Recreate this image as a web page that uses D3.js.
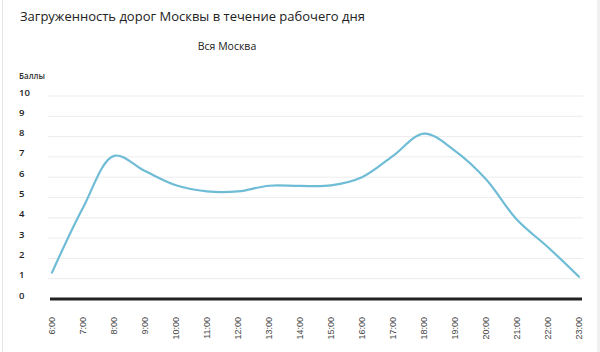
<!DOCTYPE html>
<html lang="ru">
<head>
<meta charset="UTF-8">
<title>Загруженность дорог Москвы</title>
<style>
    html, body { margin: 0; padding: 0; background: #fff; }
    svg { display: block; }
</style>
</head>
<body>
<svg id="chart" width="600" height="352"></svg>
<script src="https://cdnjs.cloudflare.com/ajax/libs/d3/7.8.5/d3.min.js"></script>
<script>
"use strict"

const hours = ["6:00", "7:00", "8:00", "9:00", "10:00", "11:00", "12:00", "13:00", "14:00",
    "15:00", "16:00", "17:00", "18:00", "19:00", "20:00", "21:00", "22:00", "23:00"];
const scores = [1.3, 4.5, 7.05, 6.3, 5.6, 5.3, 5.3, 5.58, 5.57,
    5.6, 6.0, 7.05, 8.15, 7.3, 5.9, 3.9, 2.55, 1.1];
const yTicks = [0, 1, 2, 3, 4, 5, 6, 7, 8, 9, 10];

const svg = d3.select("#chart");

// card edges
svg.append("line")
    .attr("x1", 2.5).attr("x2", 2.5).attr("y1", 0).attr("y2", 352)
    .attr("stroke", "#e4e4e4");
svg.append("rect")
    .attr("x", 597).attr("y", 0).attr("width", 3).attr("height", 352)
    .attr("fill", "#f0f0f0");

svg.append("text")
    .attr("x", 20).attr("y", 21)
    .attr("font-family", "Open Sans, sans-serif")
    .attr("font-size", "13px")
    .attr("fill", "#222")
    .text("Загруженность дорог Москвы в течение рабочего дня");

svg.append("text")
    .attr("x", 227).attr("y", 50)
    .attr("text-anchor", "middle")
    .attr("font-family", "Open Sans, sans-serif")
    .attr("font-size", "10.5px")
    .attr("fill", "#222")
    .text("Вся Москва");

svg.append("text")
    .attr("x", 19).attr("y", 79)
    .attr("font-family", "Open Sans, sans-serif")
    .attr("font-size", "8px")
    .attr("font-weight", "600")
    .attr("fill", "#333")
    .text("Баллы");

const x = d3.scalePoint().domain(hours).range([52, 579]);
const y = d3.scaleLinear().domain([0, 10]).range([299, 96]);

// grid
svg.append("g")
    .selectAll("line")
    .data(yTicks.filter(d => d > 0))
    .join("line")
    .attr("x1", 48).attr("x2", 583)
    .attr("y1", d => y(d)).attr("y2", d => y(d))
    .attr("stroke", "#ececec")
    .attr("stroke-width", 1);

// y labels
svg.append("g")
    .selectAll("text")
    .data(yTicks)
    .join("text")
    .attr("x", 19)
    .attr("y", d => y(d) - 0.5)
    .attr("font-family", "Open Sans, sans-serif")
    .attr("font-size", "9.5px")
    .attr("font-weight", "600")
    .attr("fill", "#222")
    .text(d => d);

// baseline
svg.append("line")
    .attr("x1", 50).attr("x2", 582)
    .attr("y1", y(0)).attr("y2", y(0))
    .attr("stroke", "#222")
    .attr("stroke-width", 3);

// x labels
svg.append("g")
    .selectAll("text")
    .data(hours)
    .join("text")
    .attr("transform", d => `translate(${x(d) + 3},${y(0) + 18}) rotate(-90)`)
    .attr("text-anchor", "end")
    .attr("font-family", "Liberation Sans, Arial, sans-serif")
    .attr("font-size", "9px")
    .attr("fill", "#444")
    .text(d => d);

// line
const line = d3.line()
    .x((d, i) => x(hours[i]))
    .y(d => y(d))
    .curve(d3.curveCatmullRom.alpha(0.5));

svg.append("path")
    .datum(scores)
    .attr("d", line)
    .attr("fill", "none")
    .attr("stroke", "#6fbcd6")
    .attr("stroke-width", 2.2)
    .attr("stroke-linecap", "round");
</script>
</body>
</html>
